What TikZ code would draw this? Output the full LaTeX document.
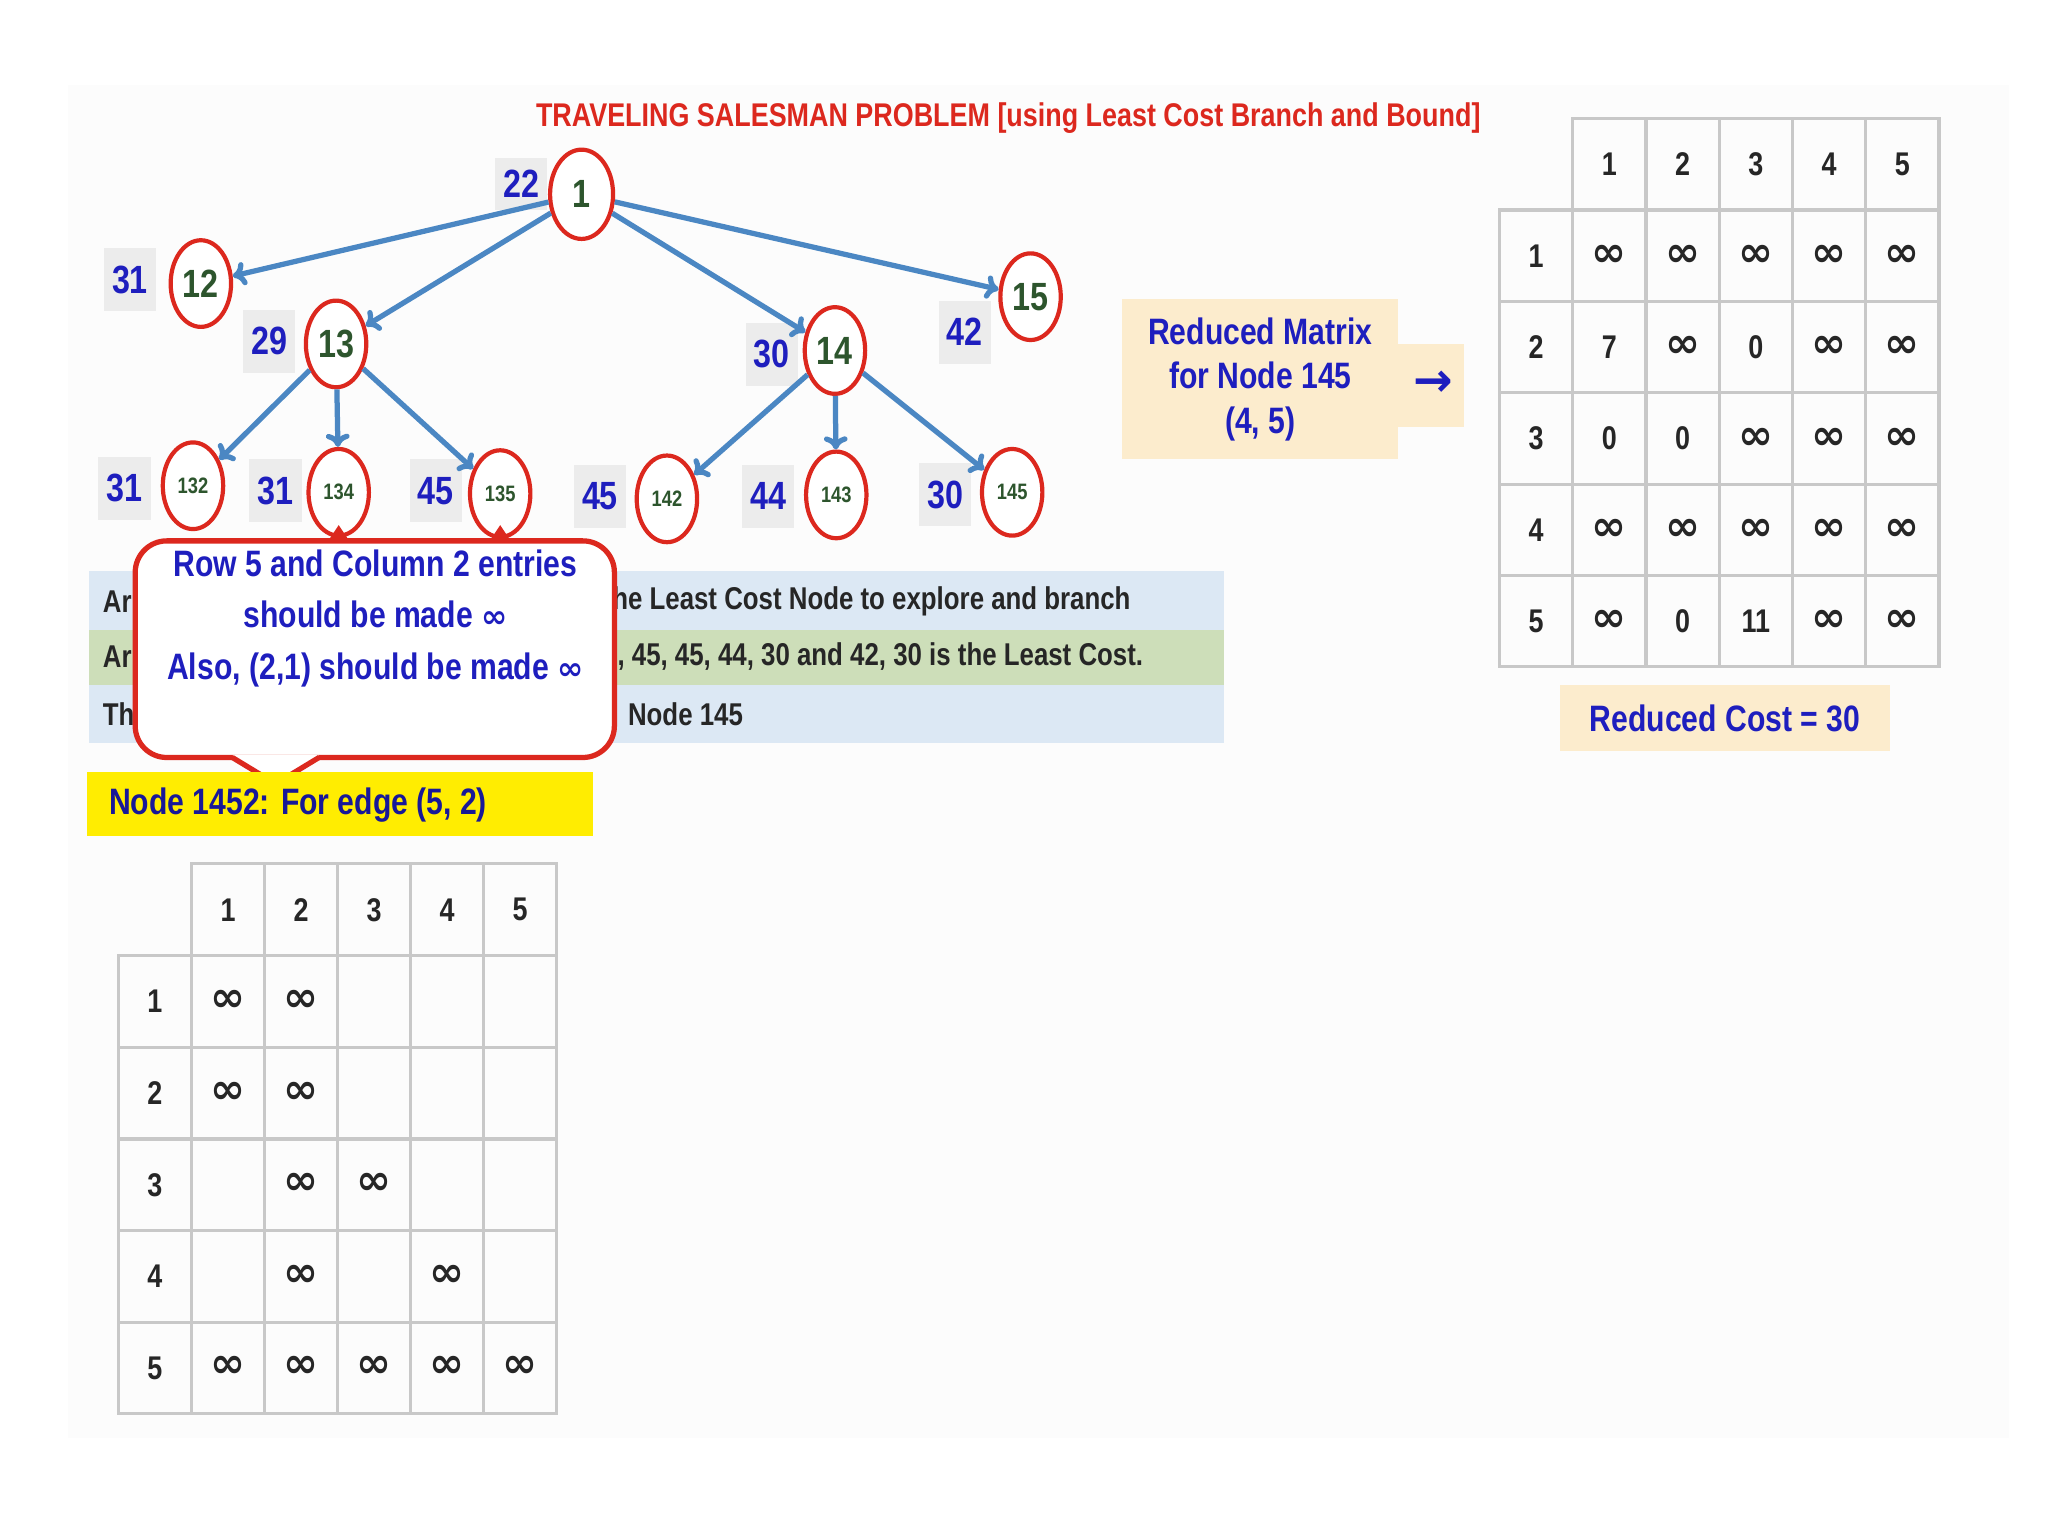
\documentclass[tikz,border=0pt]{standalone}
\usepackage{fontspec}
\setmainfont{Liberation Sans}[FakeStretch=0.82]
\newfontfamily\inff{DejaVu Sans}
\newcommand{\binf}{{\inff\bfseries\fontsize{16}{16}\selectfont ∞}}
\newcommand{\sinf}{{\inff\fontsize{12}{12}\selectfont ∞}}
\usetikzlibrary{shapes.geometric,arrows.meta}
\definecolor{tblue}{RGB}{30,30,190}
\definecolor{tred}{RGB}{220,40,30}
\definecolor{tgreen}{RGB}{45,85,45}
\definecolor{edgec}{RGB}{75,135,195}
\definecolor{band1}{RGB}{220,232,244}
\definecolor{band2}{RGB}{205,222,185}
\definecolor{beige}{RGB}{252,236,205}
\definecolor{grid}{RGB}{200,200,200}
\tikzset{
 tnode/.style={ellipse,draw=tred,line width=1.6pt,fill=white,minimum width=23pt,minimum height=33pt,inner sep=0pt,text=tgreen,font=\bfseries\fontsize{15}{15}\selectfont},
 snode/.style={tnode,font=\bfseries\fontsize{8.5}{9}\selectfont},
 cost/.style={fill=gray!15,minimum width=20pt,minimum height=20pt,inner sep=1pt,text=tblue,font=\bfseries\fontsize{15}{15}\selectfont},
 edge/.style={draw=edgec,line width=2pt,-{To[length=5pt,width=9pt]}},
 band/.style={font=\bfseries\fontsize{12}{12}\selectfont,text=black!85,anchor=west,inner sep=0pt},
 mnum/.style={font=\bfseries\fontsize{12.5}{13}\selectfont,text=black!85},
}
\begin{document}
\begin{tikzpicture}[x=0.5pt,y=-0.5pt]
\useasboundingbox (0,0) rectangle (1560,1170);
\fill[white] (0,0) rectangle (1560,1170);
\fill[black!1] (52,65) rectangle (1530,1095);
\node[text=tred,font=\bfseries\fontsize{12.5}{13}\selectfont] (title) at (768,90) {TRAVELING SALESMAN PROBLEM [using Least Cost Branch and Bound]};
% bands
\fill[band1] (68,435) rectangle (932,480);
\fill[band2] (68,480) rectangle (932,522);
\fill[band1] (68,522) rectangle (932,566);
\node[band] (b1a) at (78,458) {Ar};
\node[band] (b1b) at (466,458) {he Least Cost Node to explore and branch};
\node[band] (b2a) at (78,500) {Ar};
\node[band] (b2b) at (470,500) {, 45, 45, 44, 30 and 42, 30 is the Least Cost.};
\node[band] (b3a) at (78,544) {Th};
\node[band] (b3b) at (478,544) {Node 145};
% tree
\node[tnode,minimum width=24pt,minimum height=34pt] (n1) at (443,148) {1};
\node[tnode] (n12) at (153,216) {12};
\node[tnode] (n13) at (256,262) {13};
\node[tnode] (n14) at (636,267) {14};
\node[tnode] (n15) at (785,226) {15};
\node[snode] (n132) at (147,370) {132};
\node[snode] (n134) at (258,375) {134};
\node[snode] (n135) at (381,376) {135};
\node[snode] (n142) at (508,380) {142};
\node[snode] (n143) at (637,377) {143};
\node[snode] (n145) at (771,375) {145};
\node[cost] (c1) at (397,140) {22};
\node[cost,minimum height=24pt] (c12) at (99,213) {31};
\node[cost,minimum height=24pt] (c13) at (205,260) {29};
\node[cost,minimum height=24pt] (c14) at (588,270) {30};
\node[cost,minimum height=24pt] (c15) at (735,253) {42};
\node[cost,minimum height=24pt] (c132) at (95,372) {31};
\node[cost,minimum height=24pt] (c134) at (210,374) {31};
\node[cost,minimum height=24pt] (c135) at (332,374) {45};
\node[cost,minimum height=24pt] (c142) at (457,378) {45};
\node[cost,minimum height=24pt] (c143) at (585,378) {44};
\node[cost,minimum height=24pt] (c145) at (720,377) {30};
\draw[edge] (n1) -- (n12);
\draw[edge] (n1) -- (n13);
\draw[edge] (n1) -- (n14);
\draw[edge] (n1) -- (n15);
\draw[edge] (n13) -- (n132);
\draw[edge] (n13) -- (n134);
\draw[edge] (n13) -- (n135);
\draw[edge] (n14) -- (n142);
\draw[edge] (n14) -- (n143);
\draw[edge] (n14) -- (n145);
% callout
\fill[tred] (250,412) -- (258,400) -- (266,412) -- cycle;
\fill[tred] (373,412) -- (381,400) -- (389,412) -- cycle;
\draw[draw=tred,line width=2pt,fill=white,rounded corners=12pt] (103,412) rectangle (468,577);
\fill[white] (243,575) -- (210,597) -- (177,575) -- cycle;
\draw[tred,line width=2pt,line join=round] (243,577) -- (210,597) -- (177,577);
\node[text=tblue,font=\bfseries\fontsize{14}{19.5}\selectfont,align=center] (call) at (286,471) {Row 5 and Column 2 entries\\should be made \sinf\\Also, (2,1) should be made \sinf};
% yellow
\fill[yellow!95!orange] (66,588) rectangle (452,637);
\node[anchor=west,text=tblue!80!black,font=\bfseries\fontsize{14}{14}\selectfont] (ylab) at (76,613) {Node 1452: For edge (5, 2)};
% reduced matrix box
\fill[beige] (855,228) rectangle (1065,350);
\fill[beige] (1065,262) rectangle (1115,325);
\node[text=tblue,font=\bfseries\fontsize{14}{17}\selectfont,align=center] (rm) at (960,289) {Reduced Matrix\\for Node 145\\(4, 5)};
\node[text=tblue,font=\inff\bfseries\fontsize{18}{18}\selectfont] (rarr) at (1092,292) {→};
% right matrix
\begin{scope}[shift={(1142,90)}]
\draw[grid,line width=1.2pt] (56,0) rectangle (335,70);
\foreach \i in {1,...,4} \draw[grid,line width=1.2pt] (56+\i*55.8,0) -- (56+\i*55.8,418);
\draw[grid,line width=1.2pt] (0,70) rectangle (335,418);
\draw[grid,line width=1.2pt] (56,70) -- (56,418);
\foreach \r in {1,...,4} \draw[grid,line width=1.2pt] (0,70+\r*69.6) -- (335,70+\r*69.6);
\foreach \j in {1,...,5} \node[mnum] (rh\j) at (56+\j*55.8-27.9,35) {\j};
\foreach \r in {1,...,5} \node[mnum] (rr\r) at (28,70+\r*69.6-34.8) {\r};
\foreach \r/\vals in {1/{\binf,\binf,\binf,\binf,\binf},2/{7,\binf,0,\binf,\binf},3/{0,0,\binf,\binf,\binf},4/{\binf,\binf,\binf,\binf,\binf},5/{\binf,0,11,\binf,\binf}}{
  \foreach \v [count=\j] in \vals \node[mnum] (rc\r\j) at (56+\j*55.8-27.9,70+\r*69.6-34.8) {\v};
}
\end{scope}
\fill[beige] (1188,522) rectangle (1440,572);
\node[text=tblue,font=\bfseries\fontsize{14}{14}\selectfont] (rcost) at (1314,547) {Reduced Cost = 30};
% bottom matrix
\begin{scope}[shift={(90,658)}]
\draw[grid,line width=1.2pt] (56,0) rectangle (334,70);
\foreach \i in {1,...,4} \draw[grid,line width=1.2pt] (56+\i*55.6,0) -- (56+\i*55.6,419);
\draw[grid,line width=1.2pt] (0,70) rectangle (334,419);
\draw[grid,line width=1.2pt] (56,70) -- (56,419);
\foreach \r in {1,...,4} \draw[grid,line width=1.2pt] (0,70+\r*69.8) -- (334,70+\r*69.8);
\foreach \j in {1,...,5} \node[mnum] (bh\j) at (56+\j*55.6-27.8,35) {\j};
\foreach \r in {1,...,5} \node[mnum] (br\r) at (28,70+\r*69.8-34.9) {\r};
\foreach \r/\vals in {1/{\binf,\binf,,,},2/{\binf,\binf,,,},3/{,\binf,\binf,,},4/{,\binf,,\binf,},5/{\binf,\binf,\binf,\binf,\binf}}{
  \foreach \v [count=\j] in \vals \node[mnum] (bc\r\j) at (56+\j*55.6-27.8,70+\r*69.6-34.9) {\v};
}
\end{scope}
\end{tikzpicture}
\end{document}
